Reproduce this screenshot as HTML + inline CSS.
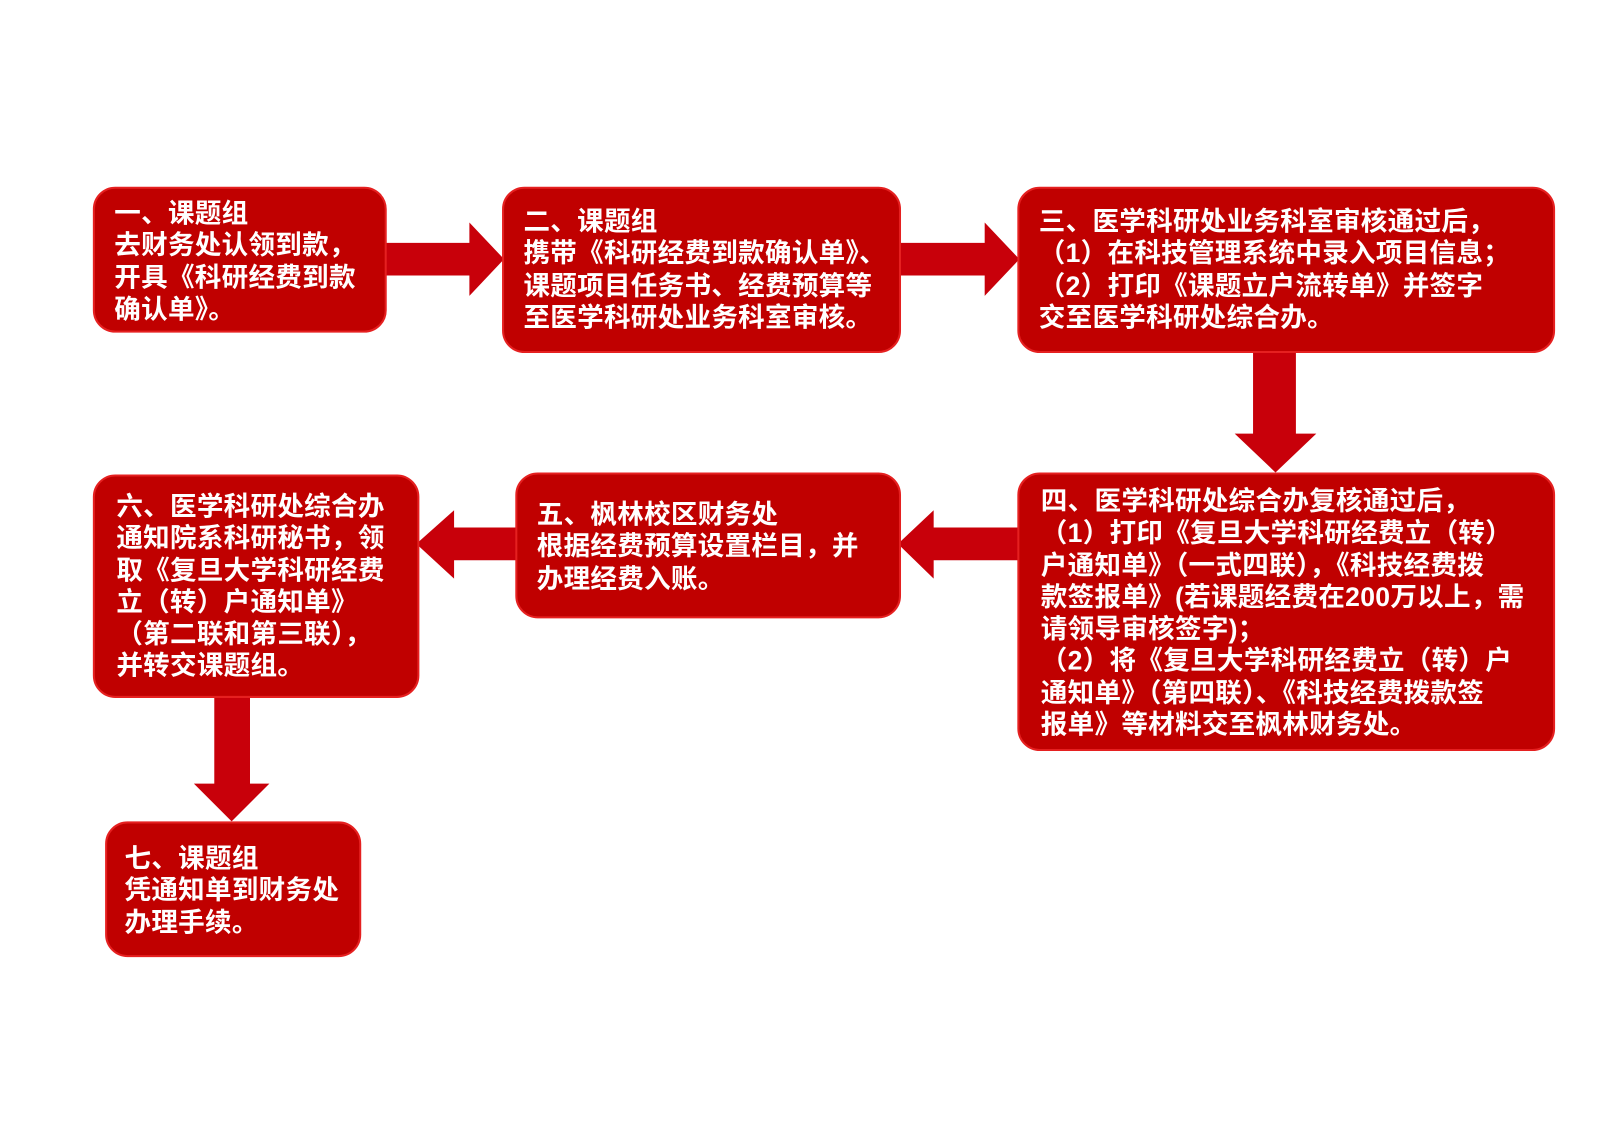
<!DOCTYPE html>
<html><head><meta charset="utf-8"><style>
body{margin:0;width:1600px;height:1131px;background:#fff;overflow:hidden;font-family:"Liberation Sans","Noto Sans CJK SC",sans-serif;}
#w{position:absolute;left:0;top:0;width:1568px;height:1108px;transform:scale(1.0204);transform-origin:0 0;}
.b{position:absolute;background:#c00000;border:2px solid #e52020;border-radius:22px;box-sizing:border-box;}
.t{position:absolute;color:#fff;font-weight:bold;font-size:26px;line-height:31.3px;white-space:nowrap;letter-spacing:0.3px;}
svg{position:absolute;left:0;top:0}
</style></head><body><div id="w">
<svg width="1568" height="1108">
<g fill="#c8000a">
<polygon points="376,238 460,238 460,218 494,254 460,290 460,270 376,270"/>
<polygon points="880,238 965,238 965,218 999,254 965,290 965,270 880,270"/>
<polygon points="1228,343 1270,343 1270,425 1290,425 1250,463 1210,425 1228,425"/>
<polygon points="999,517 915,517 915,500 880,533 915,567 915,549 999,549"/>
<polygon points="507,517 445,517 445,500 408,533 445,567 445,549 507,549"/>
<polygon points="210,681 245,681 245,768 264,768 227,805 190,768 210,768"/>
</g>
</svg>
<div class="b" style="left:91px;top:183px;width:288px;height:143px"></div>
<div class="t" style="left:112px;top:194px">一、课题组<br>去财务处认领到款，<br>开具《科研经费到款<br>确认单》。</div>
<div class="b" style="left:492px;top:183px;width:391px;height:163px"></div>
<div class="t" style="left:513px;top:202px">二、课题组<br>携带《科研经费到款确认单》、<br>课题项目任务书、经费预算等<br>至医学科研处业务科室审核。</div>
<div class="b" style="left:997px;top:183px;width:527px;height:163px"></div>
<div class="t" style="left:1018px;top:202px">三、医学科研处业务科室审核通过后，<br>（1）在科技管理系统中录入项目信息；<br>（2）打印《课题立户流转单》并签字<br>交至医学科研处综合办。</div>
<div class="b" style="left:997px;top:463px;width:527px;height:273px"></div>
<div class="t" style="left:1020px;top:476px">四、医学科研处综合办复核通过后，<br>（1）打印《复旦大学科研经费立（转）<br>户通知单》（一式四联），《科技经费拨<br>款签报单》(若课题经费在200万以上，需<br>请领导审核签字)；<br>（2）将《复旦大学科研经费立（转）户<br>通知单》（第四联）、《科技经费拨款签<br>报单》等材料交至枫林财务处。</div>
<div class="b" style="left:505px;top:463px;width:378px;height:143px"></div>
<div class="t" style="left:526px;top:489px">五、枫林校区财务处<br>根据经费预算设置栏目，并<br>办理经费入账。</div>
<div class="b" style="left:91px;top:465px;width:320px;height:219px"></div>
<div class="t" style="left:114px;top:481px">六、医学科研处综合办<br>通知院系科研秘书，领<br>取《复旦大学科研经费<br>立（转）户通知单》<br>（第二联和第三联），<br>并转交课题组。</div>
<div class="b" style="left:103px;top:805px;width:251px;height:133px"></div>
<div class="t" style="left:122px;top:826px">七、课题组<br>凭通知单到财务处<br>办理手续。</div>
</div></body></html>
